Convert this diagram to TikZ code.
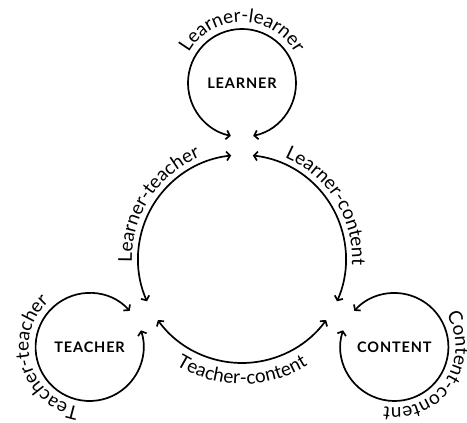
\documentclass[tikz,border=0pt]{standalone}
\usepackage{fontspec}
\setmainfont{Lato}
\newfontfamily\capsfont[LetterSpace=6]{Lato}
\usetikzlibrary{arrows.meta,calc,decorations.text}

\tikzset{
  ring/.style={line width=1.7pt,{Straight Barb[length=3.5pt,width=9pt]}-{Straight Barb[length=3.5pt,width=9pt]}},
  party/.style={font=\capsfont\bfseries\fontsize{14.5}{16}\selectfont},
  arclabel/.style={decorate,decoration={text along path,text align=center,
    text={|\fontsize{19}{21}\selectfont|#1}}}
}

\begin{document}
\begin{tikzpicture}[x=1pt,y=1pt]
	\useasboundingbox (0,0) rectangle (467,423);
	\coordinate (hub) at (242,164);
	\node[party] (learner) at ($(hub)+(90:176)$) {LEARNER};
	\node[party] (teacher) at ($(hub)+(210:176)$) {TEACHER};
	\node[party] (content) at ($(hub)+(330:176)$) {CONTENT};
	
	% self loops
	\draw[ring] ($(learner)+(-78:54)$) arc[start angle=-78,end angle=258,radius=54pt];
	\draw[ring] ($(teacher)+(42:54)$) arc[start angle=42,end angle=378,radius=54pt];
	\draw[ring] ($(content)+(162:54)$) arc[start angle=162,end angle=498,radius=54pt];
	
	% links between the three
	\draw[ring] ($(hub)+(96:104)$) arc[start angle=96,end angle=204,radius=104pt];
	\draw[ring] ($(hub)+(84:104)$) arc[start angle=84,end angle=-24,radius=104pt];
	\draw[ring] ($(hub)+(216:104)$) arc[start angle=216,end angle=324,radius=104pt];
	
	% labels
	\path[arclabel=Learner-learner] ($(learner)+(170:61)$) arc[start angle=170,end angle=10,radius=61pt];
	\path[arclabel=Learner-teacher] ($(hub)+(225:110)$) arc[start angle=225,end angle=69,radius=110pt];
	\path[arclabel=Learner-content] ($(hub)+(110:110)$) arc[start angle=110,end angle=-46,radius=110pt];
	\path[arclabel=Teacher-content] ($(hub)+(195:125)$) arc[start angle=195,end angle=345,radius=125pt];
	\path[arclabel=Teacher-teacher] ($(teacher)+(276:61)$) arc[start angle=276,end angle=116,radius=61pt];
	\path[arclabel=Content-content] ($(content)+(46:61)$) arc[start angle=46,end angle=-114,radius=61pt];
\end{tikzpicture}
\end{document}
